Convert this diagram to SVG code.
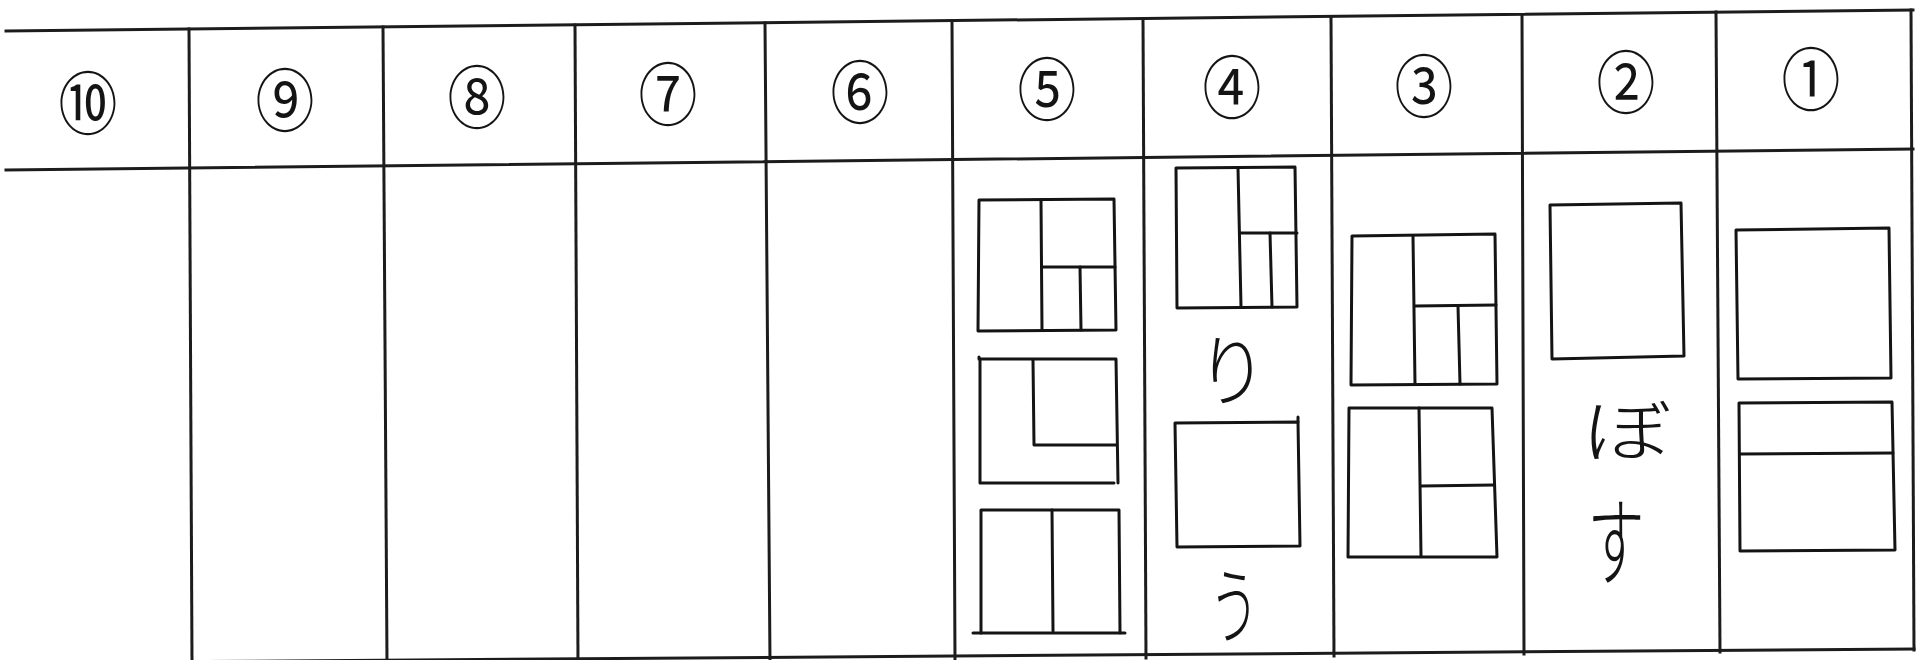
<svg xmlns="http://www.w3.org/2000/svg" width="1917" height="660" viewBox="0 0 1917 660">
  <style>
    .grid { fill: none; stroke: #1c1c1c; stroke-width: 3; stroke-linecap: square; }
    .box { fill: none; stroke: #141414; stroke-width: 3; stroke-linecap: round; stroke-linejoin: round; }
    .num { font-family: "Noto Sans CJK JP", "Noto Sans", sans-serif; font-size: 62px; fill: #141414; text-anchor: middle; dominant-baseline: central; }
    .kana { font-family: "Noto Sans CJK JP", sans-serif; font-weight: 300; fill: #141414; text-anchor: middle; dominant-baseline: central; }
  </style>
  <rect width="1917" height="660" fill="#ffffff"/>

  <g id="grid" class="grid">
    <path d="M6,31 L1913,10"/>
    <path d="M6,170 L1913,149"/>
    <path d="M0,663 L1914,649"/>
    <path d="M1911,10 L1914,650"/>
    <path d="M189,29 L192,662"/>
    <path d="M383,27 L387,662"/>
    <path d="M575,25 L578,662"/>
    <path d="M765,23 L770,662"/>
    <path d="M952,21 L955,660"/>
    <path d="M1143,18.5 L1146,658"/>
    <path d="M1331,16.5 L1334,656"/>
    <path d="M1522,14.5 L1524,654"/>
    <path d="M1716,12 L1720,652"/>
  </g>

  <g id="headers">
    <text class="num" transform="translate(88,99) scale(0.95,1.1)">⑩</text>
    <text class="num" transform="translate(285,96) scale(0.95,1.1)">⑨</text>
    <text class="num" transform="translate(477,93) scale(0.95,1.1)">⑧</text>
    <text class="num" transform="translate(668,90) scale(0.95,1.1)">⑦</text>
    <text class="num" transform="translate(860,88) scale(0.95,1.1)">⑥</text>
    <text class="num" transform="translate(1047,85) scale(0.95,1.1)">⑤</text>
    <text class="num" transform="translate(1232,83) scale(0.95,1.1)">④</text>
    <text class="num" transform="translate(1424,82) scale(0.95,1.1)">③</text>
    <text class="num" transform="translate(1626,78) scale(0.95,1.1)">②</text>
    <text class="num" transform="translate(1811,75) scale(0.95,1.1)">①</text>
  </g>

  <g id="col5">
    <g id="col5-a" class="box">
      <path d="M979,200 L1114,199 L1116,330 L978,331 Z"/>
      <path d="M1041,200 L1042,330"/>
      <path d="M1042,267 L1115,267"/>
      <path d="M1080,267 L1081,330"/>
    </g>
    <g id="col5-b" class="box">
      <path d="M979,357 L979,359 L1116,359 L1118,483"/>
      <path d="M980,359 L980,483 L1114,483"/>
      <path d="M1033,360 L1034,445 L1116,445"/>
    </g>
    <g id="col5-c" class="box">
      <path d="M981,633 L981,510 L1119,510 L1120,633"/>
      <path d="M973,633 L1125,633"/>
      <path d="M1052,510 L1053,631"/>
    </g>
  </g>

  <g id="col4">
    <g id="col4-d" class="box">
      <path d="M1176,168 L1295,167 L1297,307 L1177,308 Z"/>
      <path d="M1238,168 L1241,307"/>
      <path d="M1241,233 L1297,233"/>
      <path d="M1270,233 L1272,307"/>
    </g>
    <text class="kana" font-size="78" transform="translate(1232,366) scale(0.9,1)">り</text>
    <g id="col4-e" class="box">
      <path d="M1175,423 L1298,422 L1300,546 L1177,547 Z"/>
      <path d="M1298,422 L1298,417"/>
    </g>
    <text class="kana" font-size="76" transform="translate(1234,601) scale(0.66,1.1)">う</text>
  </g>

  <g id="col3">
    <g id="col3-f" class="box">
      <path d="M1352,236 L1495,234 L1497,384 L1351,385 Z"/>
      <path d="M1413,236 L1415,384"/>
      <path d="M1415,306 L1496,305"/>
      <path d="M1458,306 L1460,384"/>
    </g>
    <g id="col3-g" class="box">
      <path d="M1349,408 L1492,408 L1497,557 L1348,557 Z"/>
      <path d="M1419,408 L1421,556"/>
      <path d="M1421,486 L1494,485"/>
    </g>
  </g>

  <g id="col2">
    <g id="col2-h" class="box">
      <path d="M1550,205 L1681,203 L1684,356 L1552,359 Z"/>
    </g>
    <text class="kana" font-size="68" transform="translate(1627,427) scale(1.3,1)">ぼ</text>
    <text class="kana" font-size="92" transform="translate(1616,536) scale(0.62,1.05)">す</text>
  </g>

  <g id="col1">
    <g id="col1-i" class="box">
      <path d="M1736,230 L1889,228 L1891,378 L1738,379 Z"/>
    </g>
    <g id="col1-j" class="box">
      <path d="M1739,403 L1892,402 L1895,550 L1740,551 Z"/>
      <path d="M1740,454 L1893,453"/>
    </g>
  </g>
</svg>
